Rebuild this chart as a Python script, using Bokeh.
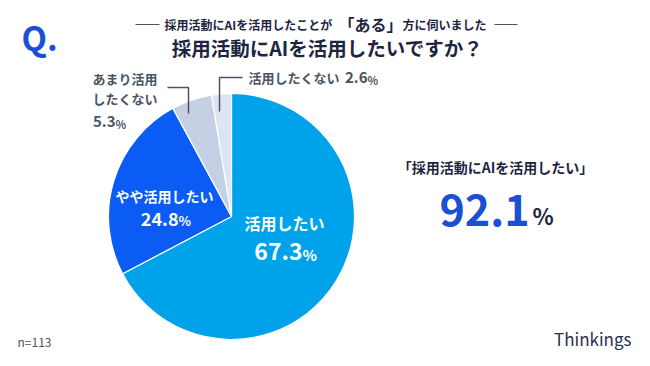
import numpy as np
from bokeh.plotting import figure
from bokeh.models import Range1d, ColumnDataSource
from bokeh.core.properties import value
from bokeh.embed import file_html
from bokeh.resources import INLINE

# ---- data ----
categories = ["活用したい", "やや活用したい", "あまり活用したくない", "活用したくない"]
shares = [67.3, 24.8, 5.3, 2.6]
colors = ["#00A2EA", "#0A5CF5", "#C6D0E4", "#DCE4F6"]
total_label = "92.1"
n_label = "n=113"

FONT = value("Noto Sans CJK JP")
H = 366

def Y(py):
    return H - py

p = figure(width=634, height=350, output_backend="svg", toolbar_location=None,
           x_range=Range1d(0, 634), y_range=Range1d(16, 366), min_border=0)
p.axis.visible = False
p.grid.visible = False
p.outline_line_color = None
p.background_fill_color = "white"
p.border_fill_color = "white"

# ---- pie ----
cx, cy, r = 231, Y(216), 123
fr = np.array(shares) / sum(shares)
cum = np.concatenate([[0], np.cumsum(fr)])
starts = np.pi / 2 - 2 * np.pi * cum[:-1]
ends = np.pi / 2 - 2 * np.pi * cum[1:]
src = ColumnDataSource(dict(start=starts, end=ends, color=colors, cat=categories))
p.wedge(x=cx, y=cy, radius=r, start_angle="start", end_angle="end",
        direction="clock", fill_color="color", line_color="white", line_width=1.2,
        source=src)

# ---- helper for texts ----
def txt(x, y, s, size, color, align="left", style="bold", baseline="middle"):
    p.text(x=[x], y=[Y(y)], text=[s], text_font=FONT, text_font_size=f"{size}px",
           text_color=color, text_align=align, text_baseline=baseline,
           text_font_style=style)

NAVY = "#1E2541"
GRAY = "#4A5462"
BLUE = "#1B4FD4"

# ---- header ----
txt(21, 36, "Q.", 33, BLUE)
p.line(x=[135, 159], y=[Y(24), Y(24)], line_color=GRAY, line_width=1)
p.line(x=[494, 517], y=[Y(24), Y(24)], line_color=GRAY, line_width=1)
txt(164, 24, "採用活動にAIを活用したことが", 12, NAVY)
txt(370, 23, "「ある」", 16, NAVY, align="center")
txt(402, 24, "方に伺いました", 12, NAVY)
txt(327, 47, "採用活動にAIを活用したいですか？", 19.5, NAVY, align="center")

# ---- inside labels ----
txt(284, 222, categories[0], 16, "white", align="center")
txt(302, 251, "67.3", 23, "white", align="right")
txt(302, 254, "%", 15, "white")
txt(164, 195, categories[1], 14, "white", align="center")
txt(178, 218, "24.8", 18, "white", align="right")
txt(178, 220, "%", 13, "white")

# ---- outside labels ----
p.line(x=[167, 188, 188], y=[Y(87), Y(87), Y(113)], line_color=GRAY, line_width=1.5)
txt(92, 78, "あまり活用", 13, GRAY)
txt(92, 98, "したくない", 13, GRAY)
txt(115, 121, "5.3", 15, GRAY, align="right")
txt(115, 123, "%", 11, GRAY)

p.line(x=[219, 219, 242], y=[Y(111), Y(77), Y(77)], line_color=GRAY, line_width=1.5)
txt(248, 77, "活用したくない", 13, GRAY)
txt(367, 77, "2.6", 15, GRAY, align="right")
txt(367, 79, "%", 11, GRAY)

# ---- right summary ----
txt(495, 166, "「採用活動にAIを活用したい」", 14, NAVY, align="center")
txt(529, 209, total_label, 43, BLUE, align="right")
txt(532, 214, "%", 22, NAVY)

# ---- footer ----
txt(17, 341, n_label, 12, GRAY, style="normal")
txt(631, 338, "Thinkings", 17, "#2A3152", align="right", style="normal")

open("out.html", "w").write(file_html(p, INLINE))
